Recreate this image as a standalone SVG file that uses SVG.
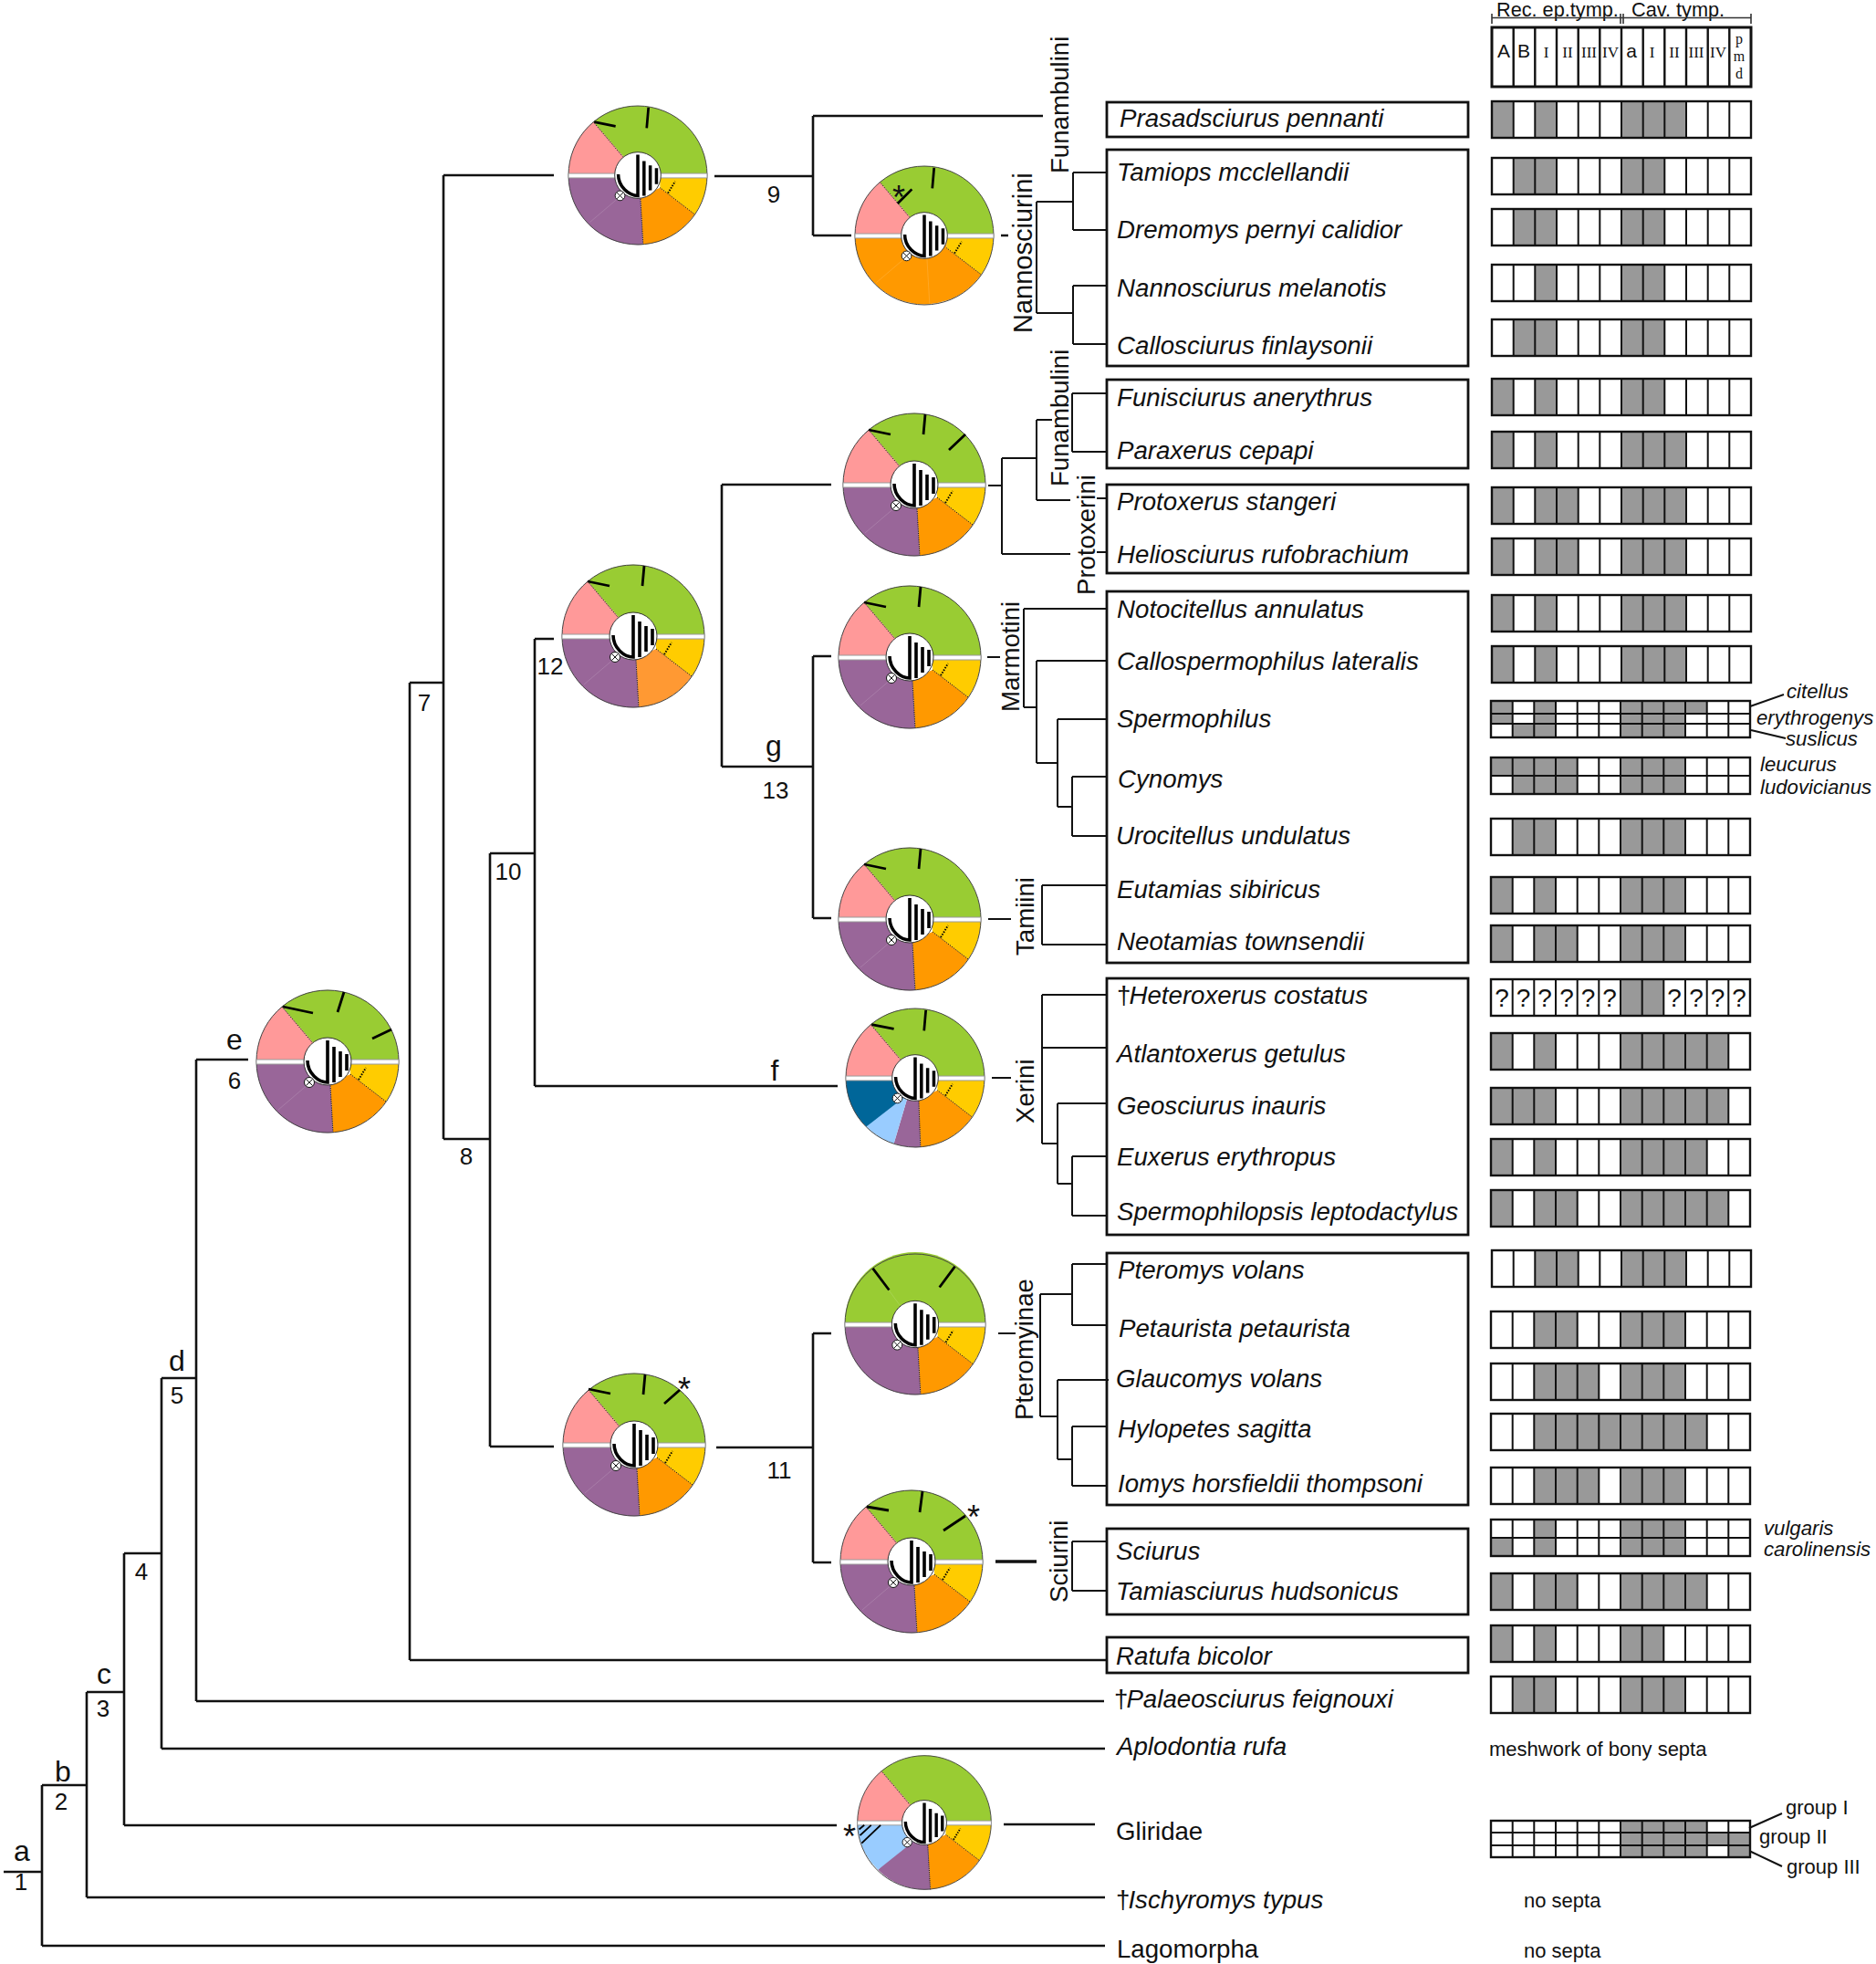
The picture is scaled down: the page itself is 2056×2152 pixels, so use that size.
<svg xmlns="http://www.w3.org/2000/svg" xmlns:xlink="http://www.w3.org/1999/xlink" width="2056" height="2152" viewBox="0 0 2056 2152">
<style>
text{font-family:"Liberation Sans",Arial,sans-serif;fill:#111}
.sp{font-size:27.7px;font-style:italic}
.tx{font-size:27.65px}
.vl{font-size:27.6px}
.no{font-size:26px}
.le{font-size:32px}
.sm{font-size:22px}
.si{font-size:22.2px;font-style:italic}
.se{font-family:"Liberation Serif","Times New Roman",serif;font-size:17px;text-anchor:middle}
.pm{font-family:"Liberation Serif","Times New Roman",serif;font-size:16px;text-anchor:middle}
.ss{font-size:21px;text-anchor:middle}
.q{font-size:28px;text-anchor:middle}
.st{font-size:36px;text-anchor:middle}
.tree{fill:none;stroke:#111;stroke-width:2.6}
.lead{fill:none;stroke:#111;stroke-width:2}
.box{fill:none;stroke:#111;stroke-width:2.8}
.on{fill:#999}
.bd{fill:none;stroke:#111;stroke-width:2.4}
.vv{fill:none;stroke:#111;stroke-width:2}
.t{fill:none;stroke:#000;stroke-width:2.8}
.dot{fill:none;stroke:#111;stroke-width:1;stroke-dasharray:1.2 1.2}
.f{fill:none;stroke:#fff;stroke-opacity:.18;stroke-width:.8}
.gr{fill:#99CC33}.pk{fill:#FF9999}.pu{fill:#996699}.or{fill:#FF9900}.ye{fill:#FFCC00}.db{fill:#006699}.lb{fill:#99CCFF}.lo{fill:#FF9933}
</style>
<defs>
<path id="v" d="M23.7 0v40M47.3 0v40M71 0v40M94.7 0v40M118.3 0v40M142 0v40M165.7 0v40M189.3 0v40M213 0v40M236.7 0v40M260.3 0v40"/>
<path id="top-g" class="gr" d="M78-2A78 78 0 0 0-50-60L0-2Z"/>
<path id="top-p" class="pk" d="M-50-60A78 78 0 0 0-78-2L0-2Z"/>
<path id="bot-y" class="ye" d="M78 3A78 78 0 0 1 64 44L25 14L25 3Z"/>
<path id="bot-o" class="or" d="M64 44A78 78 0 0 1 6 78L3 24L25 14Z"/>
<path id="bot-v" class="pu" d="M6 78A78 78 0 0 1-78 3L0 3L3 24Z"/>
<g id="hub">
<path class="dot" d="M64 44L25 14"/>
<circle r="78" fill="none" stroke="#444" stroke-width="1"/>
<rect x="-78" y="-2" width="156" height="5" fill="#fff" stroke="#999" stroke-width="1"/>
<circle r="26" fill="#fff" stroke="#333" stroke-width="1"/>
<path d="M-22-1C-22 13-10 23 0 23V-23" fill="none" stroke="#000" stroke-width="3.6"/>
<path d="M7-16V23M14-11V17M21-8V10" fill="none" stroke="#000" stroke-width="3.6"/>
<path class="dot" style="stroke-width:2;stroke-dasharray:1.5 1.5;stroke:#000" d="M34 20L42 7"/>
<circle cx="-20" cy="23" r="5.5" fill="#fff" stroke="#111" stroke-width="1"/>
<path d="M-23.5 19.5L-16.5 26.5M-23.5 26.5L-16.5 19.5" stroke="#111" stroke-width="1"/>
</g>
<g id="std">
<use href="#top-g"/><use href="#top-p"/><use href="#bot-y"/><use href="#bot-o"/><use href="#bot-v"/>
<path class="dot" d="M-50-60L-17-21M6 78L3 26"/>
<path class="f" d="M-20 24L-54 53"/>
<use href="#hub"/>
</g>
</defs>
<rect width="2056" height="2152" fill="#fff"/>

<g id="connectors">
<path class="tree" d="M4 2051H46M46 1956V2132M46 2132H1211M46 1956H95M95 1854V2079M95 2079H1211M95 1854H136M136 1702V2000M136 2000H917M136 1702H177M177 1510V1916M177 1916H1211M177 1510H215M215 1161V1864M215 1864H1210M215 1161H272"/>
<path class="tree" d="M449 748H486M449 748V1819M449 1819H1213M486 192V1248M486 192H607M486 1248H537M537 935V1585M537 1585H607M537 935H586M586 700V1190M586 700H607M586 1190H918"/>
<path class="tree" d="M791 531V840M791 531H911M791 840H891M891 719V1006M891 719H911M891 1006H911"/>
<path class="tree" d="M783 193H891M891 127V258M891 127H1143M891 258H933M1097 258H1105"/>
<path class="tree" d="M785 1586H891M891 1461V1712M891 1461H911M891 1712H911"/>
<path class="tree" d="M1100 1999H1200"/>
<path class="lead" d="M1176 189V252M1176 189H1213M1176 252H1213M1136 221H1176M1136 221V343M1136 343H1176M1176 313V377M1176 313H1213M1176 377H1213"/>
<path class="lead" d="M1083 532H1098M1098 502V607M1098 607H1173M1202 605H1213M1098 502H1136M1136 460V548M1136 460H1153M1136 548H1173M1202 546H1213M1175 431V495M1175 431H1213M1175 495H1213"/>
<path class="lead" d="M1082 720H1096M1122 667H1213M1122 667V775M1122 775H1136M1136 724V836M1136 724H1213M1136 836H1159M1159 788V884M1159 788H1213M1159 884H1175M1175 851V916M1175 851H1213M1175 916H1213"/>
<path class="lead" d="M1083 1007H1108M1142 970V1035M1142 970H1213M1142 1035H1213"/>
<path class="lead" d="M1087 1181H1108M1142 1090V1253M1142 1090H1213M1142 1148H1213M1142 1253H1159M1159 1209V1297M1159 1209H1213M1159 1297H1175M1175 1267V1332M1175 1267H1213M1175 1332H1213"/>
<path class="lead" d="M1094 1461H1113M1140 1418V1552M1140 1418H1175M1175 1385V1452M1175 1385H1213M1175 1452H1213M1140 1552H1159M1159 1512V1599M1159 1512H1215M1159 1599H1175M1175 1563V1628M1175 1563H1213M1175 1628H1213"/>
<path class="lead" d="M1175 1689V1743M1175 1689H1213M1175 1743H1213"/>
<path d="M1091 1711H1136" stroke="#111" stroke-width="3.4" fill="none"/>
<path class="lead" d="M1918 774L1955 761M1919 800L1957 809M1917 2003L1953 1987M1917 2028L1953 2045"/>
</g>

<g id="n-a" transform="translate(359,1163)"><use href="#std"/><path class="t" d="M-49-60L-16-53M18-76L11-54M70-35L49-25"/></g>
<g id="n-1" transform="translate(699,192) scale(.974)"><use href="#std"/><path class="t" d="M-49-60L-25-55M12-76L10-53"/></g>
<g id="n-2" transform="translate(1013,258) scale(.974)">
<use href="#top-g"/><use href="#top-p"/><use href="#bot-y"/>
<path class="or" d="M64 44A78 78 0 0 1-78 3L25 3L25 14Z"/>
<path class="f" d="M-20 24L-54 53M3 26L6 78"/>
<path class="dot" d="M-50-60L-17-21"/><use href="#hub"/>
<path class="t" d="M11-76L9-53M-14-52L-30-36"/></g>
<g id="n-3" transform="translate(1002,531)"><use href="#std"/><path class="t" d="M-50-60L-26-55M12-77L10-55M56-55L38-38"/></g>
<g id="n-4" transform="translate(694,697)">
<use href="#top-g"/><use href="#top-p"/><use href="#bot-y"/>
<path class="lo" d="M64 44A78 78 0 0 1 6 78L3 24L25 14Z"/><use href="#bot-v"/>
<path class="dot" d="M-50-60L-17-21M6 78L3 26"/><path class="f" d="M-20 24L-54 53"/><use href="#hub"/>
<path class="t" d="M-50-60L-26-55M12-77L10-55"/></g>
<g id="n-5" transform="translate(997,720)"><use href="#std"/><path class="t" d="M-50-60L-26-55M12-77L10-55"/></g>
<g id="n-6" transform="translate(997,1007)"><use href="#std"/><path class="t" d="M-50-60L-26-55M12-77L10-55"/></g>
<g id="n-7" transform="translate(1003,1181) scale(.974)">
<use href="#top-g"/><use href="#top-p"/><use href="#bot-y"/>
<path class="or" d="M64 44A78 78 0 0 1 6 78L4 24L25 14Z"/>
<path class="pu" d="M6 78A78 78 0 0 1-24 74L-8 20L4 20Z"/>
<path class="lb" d="M-24 74A78 78 0 0 1-55 55L-20 20L-8 20Z"/>
<path class="db" d="M-55 55A78 78 0 0 1-78 3L-10 3L-10 20Z"/>
<path class="dot" d="M-50-60L-17-21M6 78L4 26"/><use href="#hub"/>
<path class="t" d="M-49-60L-24-55M12-76L10-53"/></g>
<g id="n-8" transform="translate(1003,1451) scale(.987)">
<path class="gr" d="M78-2A78 78 0 0 0-78-2L0-2Z"/><use href="#bot-y"/><use href="#bot-o"/><use href="#bot-v"/>
<path class="f" d="M-47-62L-17-21"/><path class="dot" d="M6 78L3 26"/><use href="#hub"/>
<path class="t" d="M-47-62L-29-38M44-64L27-41"/></g>
<g id="n-9" transform="translate(695,1583)"><use href="#std"/><path class="t" d="M-50-61L-26-56M12-77L10-55M50-60L33-45"/></g>
<g id="n-10" transform="translate(999,1711)"><use href="#std"/><path class="t" d="M-49-60L-25-56M12-77L9-54M59-50L35-34"/></g>
<g id="n-11" transform="translate(1013,1997) scale(.94)">
<use href="#top-g"/><use href="#top-p"/><use href="#bot-y"/>
<path class="or" d="M64 44A78 78 0 0 1 7 78L4 24L25 14Z"/>
<path class="pu" d="M7 78A78 78 0 0 1-54 55L-20 20L4 20Z"/>
<path class="lb" d="M-54 55A78 78 0 0 1-78 3L-10 3L-10 20Z"/>
<path class="dot" d="M-50-60L-17-21M7 78L4 26"/><use href="#hub"/>
<path d="M-76 8L-70 3M-75 15L-62 3M-73 24L-51 3" fill="none" stroke="#000" stroke-width="2"/></g>
<g id="stars">
<text class="st" x="985" y="229">*</text>
<text class="st" x="750" y="1535">*</text>
<text class="st" x="1067" y="1675">*</text>
<text class="st" x="931" y="2025">*</text>
</g>

<g id="labels">
<text class="le" x="24" y="2039" text-anchor="middle">a</text><text class="no" x="23" y="2071" text-anchor="middle">1</text>
<text class="le" x="69" y="1952" text-anchor="middle">b</text><text class="no" x="67" y="1983" text-anchor="middle">2</text>
<text class="le" x="114" y="1845" text-anchor="middle">c</text><text class="no" x="113" y="1881" text-anchor="middle">3</text>
<text class="no" x="155" y="1731" text-anchor="middle">4</text>
<text class="le" x="194" y="1502" text-anchor="middle">d</text><text class="no" x="194" y="1538" text-anchor="middle">5</text>
<text class="le" x="257" y="1150" text-anchor="middle">e</text><text class="no" x="257" y="1193" text-anchor="middle">6</text>
<text class="no" x="465" y="779" text-anchor="middle">7</text>
<text class="no" x="511" y="1276" text-anchor="middle">8</text>
<text class="no" x="557" y="964" text-anchor="middle">10</text>
<text class="no" x="603" y="739" text-anchor="middle">12</text>
<text class="no" x="848" y="222" text-anchor="middle">9</text>
<text class="le" x="848" y="828" text-anchor="middle">g</text>
<text class="no" x="850" y="875" text-anchor="middle">13</text>
<text class="le" x="849" y="1184" text-anchor="middle">f</text>
<text class="no" x="854" y="1620" text-anchor="middle">11</text>
<text class="vl" transform="translate(1171,190) rotate(-90)">Funambulini</text>
<text class="vl" style="font-size:29px" transform="translate(1131,365) rotate(-90)">Nannosciurini</text>
<text class="vl" transform="translate(1171,533) rotate(-90)">Funambulini</text>
<text class="vl" transform="translate(1200,652) rotate(-90)">Protoxerini</text>
<text class="vl" transform="translate(1117,780) rotate(-90)">Marmotini</text>
<text class="vl" transform="translate(1133,1047) rotate(-90)">Tamiini</text>
<text class="vl" transform="translate(1133,1231) rotate(-90)">Xerini</text>
<text class="vl" transform="translate(1132,1556) rotate(-90)">Pteromyinae</text>
<text class="vl" transform="translate(1170,1756) rotate(-90)">Sciurini</text>
</g>

<g id="taxa">
<rect class="box" x="1213" y="112" width="396" height="38"/>
<rect class="box" x="1213" y="164" width="396" height="237"/>
<rect class="box" x="1213" y="416" width="396" height="97"/>
<rect class="box" x="1213" y="531" width="396" height="97"/>
<rect class="box" x="1213" y="648" width="396" height="407"/>
<rect class="box" x="1213" y="1072" width="396" height="281"/>
<rect class="box" x="1213" y="1373" width="396" height="276"/>
<rect class="box" x="1213" y="1675" width="396" height="94"/>
<rect class="box" x="1213" y="1794" width="396" height="39"/>
<text class="sp" x="1227" y="139">Prasadsciurus pennanti</text>
<text class="sp" x="1224" y="198">Tamiops mcclellandii</text>
<text class="sp" x="1224" y="261">Dremomys pernyi calidior</text>
<text class="sp" x="1224" y="325">Nannosciurus melanotis</text>
<text class="sp" x="1224" y="388">Callosciurus finlaysonii</text>
<text class="sp" x="1224" y="445">Funisciurus anerythrus</text>
<text class="sp" x="1224" y="503">Paraxerus cepapi</text>
<text class="sp" x="1224" y="559">Protoxerus stangeri</text>
<text class="sp" x="1224" y="617">Heliosciurus rufobrachium</text>
<text class="sp" x="1224" y="677">Notocitellus annulatus</text>
<text class="sp" x="1224" y="734">Callospermophilus lateralis</text>
<text class="sp" x="1224" y="797">Spermophilus</text>
<text class="sp" x="1225" y="863">Cynomys</text>
<text class="sp" x="1223" y="925">Urocitellus undulatus</text>
<text class="sp" x="1224" y="984">Eutamias sibiricus</text>
<text class="sp" x="1224" y="1041">Neotamias townsendii</text>
<text class="sp" x="1224" y="1100"><tspan font-style="normal">†</tspan><tspan dx="-2">Heteroxerus costatus</tspan></text>
<text class="sp" x="1224" y="1164">Atlantoxerus getulus</text>
<text class="sp" x="1224" y="1221">Geosciurus inauris</text>
<text class="sp" x="1224" y="1277">Euxerus erythropus</text>
<text class="sp" x="1224" y="1337">Spermophilopsis leptodactylus</text>
<text class="sp" x="1225" y="1401">Pteromys volans</text>
<text class="sp" x="1226" y="1465">Petaurista petaurista</text>
<text class="sp" x="1223" y="1520">Glaucomys volans</text>
<text class="sp" x="1225" y="1575">Hylopetes sagitta</text>
<text class="sp" x="1225" y="1635">Iomys horsfieldii thompsoni</text>
<text class="sp" x="1223" y="1709">Sciurus</text>
<text class="sp" x="1223" y="1753">Tamiasciurus hudsonicus</text>
<text class="sp" x="1223" y="1824">Ratufa bicolor</text>
<text class="sp" x="1221" y="1871"><tspan font-style="normal">†</tspan><tspan dx="-2">Palaeosciurus feignouxi</tspan></text>
<text class="sp" x="1224" y="1923">Aplodontia rufa</text>
<text class="tx" x="1223" y="2016">Gliridae</text>
<text class="sp" x="1223" y="2091"><tspan font-style="normal">†</tspan><tspan dx="-2">Ischyromys typus</tspan></text>
<text class="tx" x="1224" y="2145">Lagomorpha</text>
</g>

<g id="table">
<text class="sm" style="font-size:21.7px" x="1640" y="18">Rec. ep.tymp.</text>
<text class="sm" style="font-size:21.7px" x="1788" y="18">Cav. tymp.</text>
<path d="M1635 19.5H1919M1635 15V26M1776 15V26M1779 15V26M1919 15V26" fill="none" stroke="#333" stroke-width="1.6"/>
<g transform="translate(1635,30)">
<path d="M23.7 0v65M47.3 0v65M71 0v65M94.7 0v65M118.3 0v65M142 0v65M165.7 0v65M189.3 0v65M213 0v65M236.7 0v65M260.3 0v65" fill="none" stroke="#111" stroke-width="2.4"/>
<rect width="284" height="65" fill="none" stroke="#111" stroke-width="3"/>
<text class="ss" x="13" y="33">A</text><text class="ss" x="35" y="33">B</text>
<text class="se" x="59.5" y="33">I</text><text class="se" x="83" y="33">II</text><text class="se" x="106.5" y="33">III</text><text class="se" x="130" y="33">IV</text>
<text class="ss" x="153" y="33">a</text>
<text class="se" x="175.5" y="33">I</text><text class="se" x="200" y="33">II</text><text class="se" x="224" y="33">III</text><text class="se" x="248" y="33">IV</text>
<text class="pm" x="271" y="18">p</text><text class="pm" x="271" y="37">m</text><text class="pm" x="271" y="56">d</text>
</g>
<g transform="translate(1635,111)"><path class="on" d="M0 0h23.7v40h-23.7zM47.3 0h23.7v40h-23.7zM142 0h71v40h-71z"/><use href="#v" class="vv"/><rect class="bd" width="284" height="40"/></g>
<g transform="translate(1635,173)"><path class="on" d="M23.7 0h47.3v40h-47.3zM142 0h47.3v40h-47.3z"/><use href="#v" class="vv"/><rect class="bd" width="284" height="40"/></g>
<g transform="translate(1635,229)"><path class="on" d="M23.7 0h47.3v40h-47.3zM142 0h47.3v40h-47.3z"/><use href="#v" class="vv"/><rect class="bd" width="284" height="40"/></g>
<g transform="translate(1635,290)"><path class="on" d="M47.3 0h23.7v40h-23.7zM142 0h47.3v40h-47.3z"/><use href="#v" class="vv"/><rect class="bd" width="284" height="40"/></g>
<g transform="translate(1635,350)"><path class="on" d="M23.7 0h47.3v40h-47.3zM142 0h47.3v40h-47.3z"/><use href="#v" class="vv"/><rect class="bd" width="284" height="40"/></g>
<g transform="translate(1635,415)"><path class="on" d="M0 0h23.7v40h-23.7zM47.3 0h23.7v40h-23.7zM142 0h47.3v40h-47.3z"/><use href="#v" class="vv"/><rect class="bd" width="284" height="40"/></g>
<g transform="translate(1635,473)"><path class="on" d="M0 0h23.7v40h-23.7zM47.3 0h23.7v40h-23.7zM142 0h71v40h-71z"/><use href="#v" class="vv"/><rect class="bd" width="284" height="40"/></g>
<g transform="translate(1635,534)"><path class="on" d="M0 0h23.7v40h-23.7zM47.3 0h47.4v40h-47.4zM142 0h71v40h-71z"/><use href="#v" class="vv"/><rect class="bd" width="284" height="40"/></g>
<g transform="translate(1635,590)"><path class="on" d="M0 0h23.7v40h-23.7zM47.3 0h47.4v40h-47.4zM142 0h71v40h-71z"/><use href="#v" class="vv"/><rect class="bd" width="284" height="40"/></g>
<g transform="translate(1635,652)"><path class="on" d="M0 0h23.7v40h-23.7zM47.3 0h23.7v40h-23.7zM142 0h71v40h-71z"/><use href="#v" class="vv"/><rect class="bd" width="284" height="40"/></g>
<g transform="translate(1635,708)"><path class="on" d="M0 0h23.7v40h-23.7zM47.3 0h23.7v40h-23.7zM142 0h71v40h-71z"/><use href="#v" class="vv"/><rect class="bd" width="284" height="40"/></g>
<g transform="translate(1634,768)"><path class="on" d="M0 0h23.7v25h-23.7zM47.3 0h23.7v40h-23.7zM142 0h71v40h-71zM213 0h23.7v14h-23.7zM23.7 25h23.6v15h-23.6z"/><use href="#v" class="vv"/><path class="vv" d="M0 14H284M0 25H284"/><rect class="bd" width="284" height="40"/></g>
<g transform="translate(1634,830)"><path class="on" d="M0 0h23.7v20h-23.7zM23.7 0h71v40h-71zM142 0h71v40h-71z"/><use href="#v" class="vv"/><path class="vv" d="M0 20H284"/><rect class="bd" width="284" height="40"/></g>
<g transform="translate(1634,897)"><path class="on" d="M23.7 0h47.3v40h-47.3zM142 0h71v40h-71z"/><use href="#v" class="vv"/><rect class="bd" width="284" height="40"/></g>
<g transform="translate(1634,961)"><path class="on" d="M0 0h23.7v40h-23.7zM47.3 0h23.7v40h-23.7zM142 0h71v40h-71z"/><use href="#v" class="vv"/><rect class="bd" width="284" height="40"/></g>
<g transform="translate(1634,1014)"><path class="on" d="M0 0h23.7v40h-23.7zM47.3 0h47.4v40h-47.4zM142 0h71v40h-71z"/><use href="#v" class="vv"/><rect class="bd" width="284" height="40"/></g>
<g transform="translate(1634,1073)"><path class="on" d="M142 0h47.3v40h-47.3z"/><use href="#v" class="vv"/><rect class="bd" width="284" height="40"/>
<text class="q" x="12" y="30">?</text><text class="q" x="35.5" y="30">?</text><text class="q" x="59" y="30">?</text><text class="q" x="83" y="30">?</text><text class="q" x="106.5" y="30">?</text><text class="q" x="130" y="30">?</text><text class="q" x="201" y="30">?</text><text class="q" x="225" y="30">?</text><text class="q" x="248.5" y="30">?</text><text class="q" x="272" y="30">?</text></g>
<g transform="translate(1634,1132)"><path class="on" d="M0 0h23.7v40h-23.7zM47.3 0h23.7v40h-23.7zM142 0h118.3v40h-118.3z"/><use href="#v" class="vv"/><rect class="bd" width="284" height="40"/></g>
<g transform="translate(1634,1192)"><path class="on" d="M0 0h71v40h-71zM142 0h118.3v40h-118.3z"/><use href="#v" class="vv"/><rect class="bd" width="284" height="40"/></g>
<g transform="translate(1634,1248)"><path class="on" d="M0 0h23.7v40h-23.7zM47.3 0h23.7v40h-23.7zM142 0h94.7v40h-94.7z"/><use href="#v" class="vv"/><rect class="bd" width="284" height="40"/></g>
<g transform="translate(1634,1304)"><path class="on" d="M0 0h23.7v40h-23.7zM47.3 0h47.4v40h-47.4zM142 0h118.3v40h-118.3z"/><use href="#v" class="vv"/><rect class="bd" width="284" height="40"/></g>
<g transform="translate(1635,1370)"><path class="on" d="M47.3 0h47.4v40h-47.4zM142 0h71v40h-71z"/><use href="#v" class="vv"/><rect class="bd" width="284" height="40"/></g>
<g transform="translate(1634,1437)"><path class="on" d="M47.3 0h47.4v40h-47.4zM142 0h71v40h-71z"/><use href="#v" class="vv"/><rect class="bd" width="284" height="40"/></g>
<g transform="translate(1634,1494)"><path class="on" d="M47.3 0h71v40h-71zM142 0h71v40h-71z"/><use href="#v" class="vv"/><rect class="bd" width="284" height="40"/></g>
<g transform="translate(1634,1549)"><path class="on" d="M47.3 0h189.4v40h-189.4z"/><use href="#v" class="vv"/><rect class="bd" width="284" height="40"/></g>
<g transform="translate(1634,1608)"><path class="on" d="M47.3 0h71v40h-71zM142 0h71v40h-71z"/><use href="#v" class="vv"/><rect class="bd" width="284" height="40"/></g>
<g transform="translate(1634,1665)"><path class="on" d="M47.3 0h23.7v40h-23.7zM142 0h71v40h-71zM0 20h23.7v20h-23.7z"/><use href="#v" class="vv"/><path class="vv" d="M0 20H284"/><rect class="bd" width="284" height="40"/></g>
<g transform="translate(1634,1724)"><path class="on" d="M0 0h23.7v40h-23.7zM47.3 0h47.4v40h-47.4zM142 0h94.7v40h-94.7z"/><use href="#v" class="vv"/><rect class="bd" width="284" height="40"/></g>
<g transform="translate(1634,1781)"><path class="on" d="M0 0h23.7v40h-23.7zM47.3 0h23.7v40h-23.7zM142 0h47.3v40h-47.3z"/><use href="#v" class="vv"/><rect class="bd" width="284" height="40"/></g>
<g transform="translate(1634,1837)"><path class="on" d="M23.7 0h47.3v40h-47.3zM142 0h71v40h-71z"/><use href="#v" class="vv"/><rect class="bd" width="284" height="40"/></g>
<g transform="translate(1634,1995)"><path class="on" d="M142 0h94.7v40h-94.7zM236.7 13h47.3v14h-47.3zM260.3 27h23.7v13h-23.7z"/><use href="#v" class="vv"/><path class="vv" d="M0 13H284M0 27H284"/><rect class="bd" width="284" height="40"/></g>
<text class="si" x="1958" y="765">citellus</text>
<text class="si" x="1925" y="794">erythrogenys</text>
<text class="si" x="1957" y="817">suslicus</text>
<text class="si" x="1929" y="845">leucurus</text>
<text class="si" x="1929" y="870">ludovicianus</text>
<text class="si" x="1933" y="1682">vulgaris</text>
<text class="si" x="1933" y="1705">carolinensis</text>
<text class="sm" x="1632" y="1924">meshwork of bony septa</text>
<text class="sm" x="1957" y="1988">group I</text>
<text class="sm" x="1928" y="2020">group II</text>
<text class="sm" x="1958" y="2053">group III</text>
<text class="sm" x="1670" y="2090">no septa</text>
<text class="sm" x="1670" y="2145">no septa</text>
</g>
</svg>
